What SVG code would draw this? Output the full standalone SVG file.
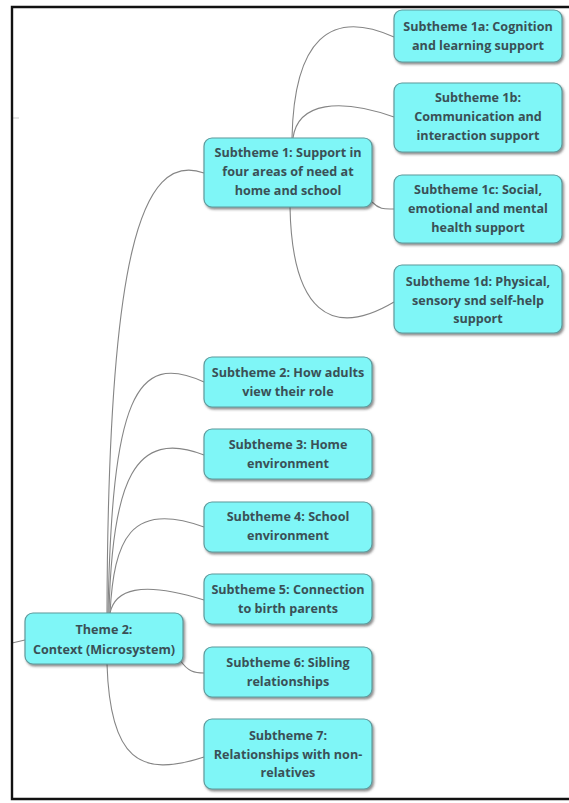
<svg xmlns="http://www.w3.org/2000/svg" width="569" height="803" viewBox="0 0 569 803">
  <defs>
    <filter id="shadow" x="-10%" y="-15%" width="125%" height="140%">
      <feDropShadow dx="1.5" dy="2" stdDeviation="1.3" flood-color="#444" flood-opacity="0.6"/>
    </filter>
  </defs>
  <style>
    .box { fill: #7ff6f7; stroke: #5f9a9c; stroke-width: 1.2; filter: url(#shadow); }
    .lbl { font-family: "Open Sans", "Noto Sans", "Liberation Sans", sans-serif; font-weight: bold; font-size: 12.6px; fill: #3a5056; text-anchor: middle; }
    .link { fill: none; stroke: #858585; stroke-width: 1.1; }
    .frame { fill: none; stroke: #111; stroke-width: 2.4; }
  </style>

  <rect width="569" height="803" fill="#ffffff"/>

  <!-- connectors -->
  <g id="connectors">
    <path class="link" d="M12 643 L25 640"/>
    <path class="link" d="M13 118 L19 118" stroke-opacity="0.4"/>
    <path class="link" d="M107 613 C108 260, 140 150, 204 173"/>
    <path class="link" d="M108 613 C112 400, 135 350, 204 382"/>
    <path class="link" d="M109 613 C112 480, 135 428, 204 455"/>
    <path class="link" d="M110 613 C114 540, 130 500, 204 527"/>
    <path class="link" d="M110 613 C115 590, 140 580, 204 600"/>
    <path class="link" d="M180 660 C188 672, 195 673, 204 673"/>
    <path class="link" d="M107 664 C110 760, 140 778, 204 757"/>
    <path class="link" d="M292 138 C294 40, 330 8, 394 37"/>
    <path class="link" d="M293 138 C298 102, 340 98, 394 117"/>
    <path class="link" d="M372 202 C380 210, 385 209, 394 209"/>
    <path class="link" d="M290 207 C292 310, 330 340, 394 302"/>
  </g>

  <!-- nodes -->
  <g id="theme2">
    <rect class="box" x="25" y="613" width="158" height="51" rx="8"/>
    <text class="lbl" x="104" y="634">Theme 2:</text>
    <text class="lbl" x="104" y="654">Context (Microsystem)</text>
  </g>

  <g id="sub1">
    <rect class="box" x="204" y="138" width="168" height="69" rx="8"/>
    <text class="lbl" x="288" y="157">Subtheme 1: Support in</text>
    <text class="lbl" x="288" y="176">four areas of need at</text>
    <text class="lbl" x="288" y="195">home and school</text>
  </g>

  <g id="sub1a">
    <rect class="box" x="394" y="10" width="168" height="52" rx="8"/>
    <text class="lbl" x="478" y="31">Subtheme 1a: Cognition</text>
    <text class="lbl" x="478" y="50">and learning support</text>
  </g>

  <g id="sub1b">
    <rect class="box" x="394" y="83" width="168" height="69" rx="8"/>
    <text class="lbl" x="478" y="102">Subtheme 1b:</text>
    <text class="lbl" x="478" y="121">Communication and</text>
    <text class="lbl" x="478" y="140">interaction support</text>
  </g>

  <g id="sub1c">
    <rect class="box" x="394" y="175" width="168" height="68" rx="8"/>
    <text class="lbl" x="478" y="194">Subtheme 1c: Social,</text>
    <text class="lbl" x="478" y="213">emotional and mental</text>
    <text class="lbl" x="478" y="232">health support</text>
  </g>

  <g id="sub1d">
    <rect class="box" x="394" y="265" width="168" height="68" rx="8"/>
    <text class="lbl" x="478" y="286">Subtheme 1d: Physical,</text>
    <text class="lbl" x="478" y="305">sensory snd self-help</text>
    <text class="lbl" x="478" y="323">support</text>
  </g>

  <g id="sub2">
    <rect class="box" x="204" y="357" width="168" height="50" rx="8"/>
    <text class="lbl" x="288" y="377">Subtheme 2: How adults</text>
    <text class="lbl" x="288" y="396">view their role</text>
  </g>

  <g id="sub3">
    <rect class="box" x="204" y="429" width="168" height="50" rx="8"/>
    <text class="lbl" x="288" y="449">Subtheme 3: Home</text>
    <text class="lbl" x="288" y="468">environment</text>
  </g>

  <g id="sub4">
    <rect class="box" x="204" y="502" width="168" height="50" rx="8"/>
    <text class="lbl" x="288" y="521">Subtheme 4: School</text>
    <text class="lbl" x="288" y="540">environment</text>
  </g>

  <g id="sub5">
    <rect class="box" x="204" y="574" width="168" height="50" rx="8"/>
    <text class="lbl" x="288" y="594">Subtheme 5: Connection</text>
    <text class="lbl" x="288" y="613">to birth parents</text>
  </g>

  <g id="sub6">
    <rect class="box" x="204" y="647" width="168" height="50" rx="8"/>
    <text class="lbl" x="288" y="667">Subtheme 6: Sibling</text>
    <text class="lbl" x="288" y="686">relationships</text>
  </g>

  <g id="sub7">
    <rect class="box" x="204" y="719" width="168" height="70" rx="8"/>
    <text class="lbl" x="288" y="740">Subtheme 7:</text>
    <text class="lbl" x="288" y="759">Relationships with non-</text>
    <text class="lbl" x="288" y="777">relatives</text>
  </g>

  <!-- outer frame (open on the right) -->
  <path class="frame" d="M569 7 H12 V799 H569"/>
</svg>
